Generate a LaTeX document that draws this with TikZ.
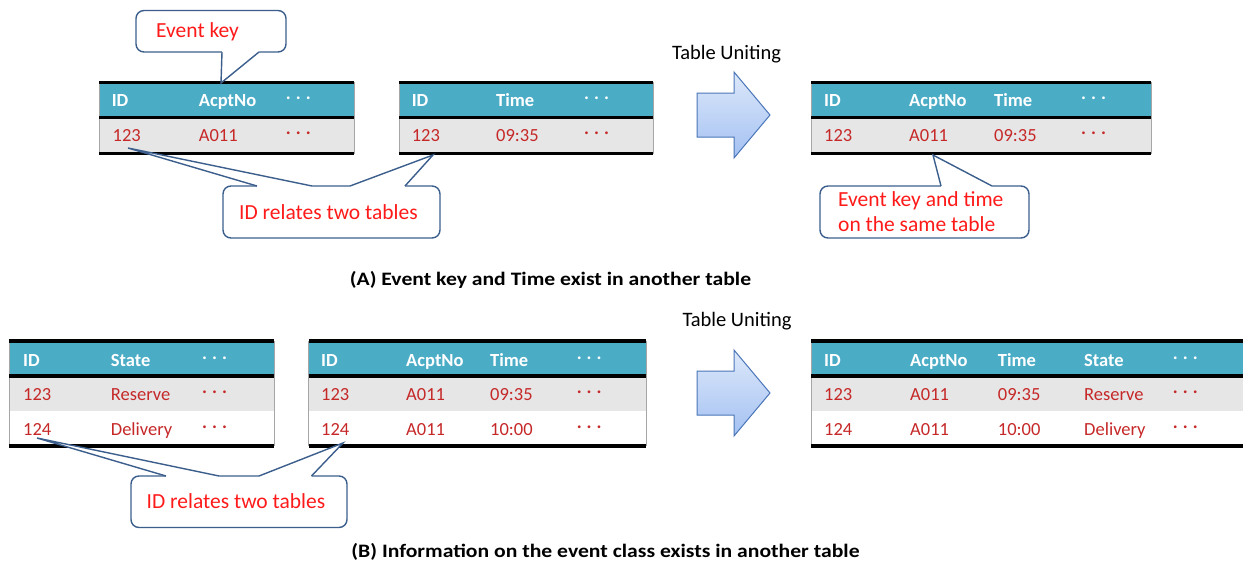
\documentclass[tikz,border=0pt]{standalone}
\usepackage{fontspec}
\setmainfont{Carlito}
\newfontfamily\capfont[FakeStretch=1.14]{Carlito}
\usetikzlibrary{calc}
\definecolor{hdrteal}{HTML}{4BACC6}
\definecolor{rowgray}{HTML}{E6E6E6}
\definecolor{cellred}{HTML}{C62828}
\definecolor{callred}{HTML}{FF1A1A}
\definecolor{callblue}{HTML}{3B5E8C}
\definecolor{arrowtop}{HTML}{DDE8FA}
\definecolor{arrowbot}{HTML}{A3C1F2}
\definecolor{arrowedge}{HTML}{4A76B8}
\definecolor{sidegray}{HTML}{A6A6A6}
\newcommand\tdots{\raisebox{7pt}{\textbf{.\kern5pt.\kern5pt.}}}
\newcommand\tabAbg[2]{%
  \fill[hdrteal] (#1,84) rectangle (#2,116);
  \fill[rowgray] (#1,119) rectangle (#2,152);
  \draw[sidegray, line width=0.8pt] (#1,82) -- (#1,154) (#2,82) -- (#2,154);
  \draw[line width=3.5pt] (#1,82.7) -- (#2,82.7) (#1,117.6) -- (#2,117.6) (#1,153.4) -- (#2,153.4);
}
\newcommand\tabBbg[2]{%
  \fill[hdrteal] (#1,342.7) rectangle (#2,374.5);
  \fill[rowgray] (#1,378) rectangle (#2,411);
  \draw[sidegray, line width=0.8pt] (#1,341) -- (#1,446) (#2,341) -- (#2,446);
  \draw[line width=3.5pt] (#1,341) -- (#2,341) (#1,376.2) -- (#2,376.2) (#1,446) -- (#2,446);
}
\tikzset{
  hdr/.style={anchor=base west, inner sep=0pt, text=white, font=\bfseries\fontsize{18.5}{20}\selectfont},
  cell/.style={anchor=base west, inner sep=0pt, text=cellred, font=\fontsize{18.5}{20}\selectfont},
  cbox/.style={draw=callblue, line width=1.4pt, rounded corners=8pt, fill=white, inner sep=0pt, outer sep=0pt},
  ctext/.style={anchor=base west, inner sep=0pt, text=callred, font=\fontsize{21.5}{25}\selectfont},
  cline/.style={draw=callblue, line width=1.4pt, line join=miter},
  bigarrow/.style={draw=arrowedge, line width=1pt, top color=arrowtop, bottom color=arrowbot},
  uniting/.style={anchor=base, inner sep=0pt, text=black, font=\fontsize{20.5}{22}\selectfont},
  caption/.style={anchor=base, inner sep=0pt, text=black, font=\capfont\bfseries\fontsize{19}{21}\selectfont}
}
\begin{document}
\begin{tikzpicture}[x=1pt,y=-1pt]
\useasboundingbox[fill=white] (0,0) rectangle (1243,568);

% ---------------- Part A tables ----------------
\tabAbg{99}{354}
\tabAbg{399}{653}
\tabAbg{811}{1151}

\foreach \n/\x/\t in {a1h1/111.6/ID, a1h2/198.7/AcptNo, a2h1/411.6/ID, a2h2/496/Time,
                      a3h1/824/ID, a3h2/909/AcptNo, a3h3/994/Time}
  \node[hdr] (\n) at (\x,106.7) {\t};
\foreach \n/\x in {a1hd/285.7, a2hd/584, a3hd/1081}
  \node[hdr] (\n) at (\x,106.7) {\tdots};
\foreach \n/\x/\t in {a1r1/112.5/123, a1r2/198.7/A011, a2r1/411.6/123, a2r2/496/09:35,
                      a3r1/824/123, a3r2/909/A011, a3r3/994/09:35}
  \node[cell] (\n) at (\x,141.7) {\t};
\foreach \n/\x in {a1rd/285.7, a2rd/584, a3rd/1081}
  \node[cell] (\n) at (\x,141.7) {\tdots};

% arrow A
\path[bigarrow] (697,93) -- (734,93) -- (734,72) -- (770,115) -- (734,158) -- (734,137) -- (697,137) -- cycle;
\node[uniting] (unitA) at (726.5,59) {Table Uniting};

% callout: Event key
\node[cbox, minimum width=150pt, minimum height=41.5pt] (ekbox) at (211,31.25) {};
\node[ctext] (ektext) at (156,37.5) {Event key};
\coordinate (ekb1) at (222,52);
\coordinate (ekb2) at (259,52);
\coordinate (ektip) at (221,83);
\fill[white] (ekb1) -- (ektip) -- (ekb2) -- ($(ekb2)+(0,-2)$) -- ($(ekb1)+(0,-2)$) -- cycle;
\draw[cline] (ekb1) -- (ektip) -- (ekb2);

% callout: ID relates two tables (A)
\node[cbox, minimum width=217pt, minimum height=52pt] (idAbox) at (331.5,212) {};
\node[ctext] (idAtext) at (239,219.3) {ID relates two tables};
\coordinate (idAt1) at (128,148);
\coordinate (idAb1) at (257,186);
\coordinate (idAb2) at (312,186);
\coordinate (idAt2) at (433,155);
\coordinate (idAb3) at (350,186);
\coordinate (idAb4) at (405,186);
\fill[white] (idAb1) -- (idAt1) -- (idAb2) -- ($(idAb2)+(0,2)$) -- ($(idAb1)+(0,2)$) -- cycle;
\fill[white] (idAb3) -- (idAt2) -- (idAb4) -- ($(idAb4)+(0,2)$) -- ($(idAb3)+(0,2)$) -- cycle;
\draw[cline] (idAb1) -- (idAt1) -- (idAb2);
\draw[cline] (idAb3) -- (idAt2) -- (idAb4);

% callout: Event key and time on the same table
\node[cbox, minimum width=209pt, minimum height=52pt] (etbox) at (924.5,212) {};
\node[ctext] (ettext1) at (838,206.7) {Event key and time};
\node[ctext] (ettext2) at (838,231.7) {on the same table};
\coordinate (etb1) at (941,186);
\coordinate (etb2) at (992,186);
\coordinate (ettip) at (933,155);
\fill[white] (etb1) -- (ettip) -- (etb2) -- ($(etb2)+(0,2)$) -- ($(etb1)+(0,2)$) -- cycle;
\draw[cline] (etb1) -- (ettip) -- (etb2);

\node[caption] (capA) at (550.5,285) {(A) Event key and Time exist in another table};

% ---------------- Part B tables ----------------
\tabBbg{9.3}{274.4}
\tabBbg{308.5}{646}
\tabBbg{811}{1248}

\foreach \n/\x/\t in {b1h1/23/ID, b1h2/110.7/State, b2h1/321/ID, b2h2/406/AcptNo, b2h3/490/Time,
                      b3h1/824/ID, b3h2/910/AcptNo, b3h3/997.7/Time, b3h4/1084/State}
  \node[hdr] (\n) at (\x,366) {\t};
\foreach \n/\x in {b1hd/202, b2hd/576.6, b3hd/1172.7}
  \node[hdr] (\n) at (\x,366) {\tdots};
\foreach \n/\x/\t in {b1a1/23/123, b1a2/110.7/Reserve, b2a1/321/123, b2a2/406/A011, b2a3/490/09:35,
                      b3a1/824/123, b3a2/910/A011, b3a3/997.7/09:35, b3a4/1084/Reserve}
  \node[cell] (\n) at (\x,400.7) {\t};
\foreach \n/\x/\t in {b1b1/23/124, b1b2/110.7/Delivery, b2b1/321/124, b2b2/406/A011, b2b3/490/10:00,
                      b3b1/824/124, b3b2/910/A011, b3b3/997.7/10:00, b3b4/1084/Delivery}
  \node[cell] (\n) at (\x,435.5) {\t};
\foreach \n/\x in {b1ad/202, b2ad/576.6, b3ad/1172.7}
  \node[cell] (\n) at (\x,400.7) {\tdots};
\foreach \n/\x in {b1bd/202, b2bd/576.6, b3bd/1172.7}
  \node[cell] (\n) at (\x,435.5) {\tdots};

% arrow B
\path[bigarrow] (697,371) -- (734,371) -- (734,350) -- (770,393) -- (734,436) -- (734,415) -- (697,415) -- cycle;
\node[uniting] (unitB) at (737,326) {Table Uniting};

% callout: ID relates two tables (B)
\node[cbox, minimum width=216pt, minimum height=51.5pt] (idBbox) at (239,501.75) {};
\node[ctext] (idBtext) at (146.5,508.3) {ID relates two tables};
\coordinate (idBt1) at (37,438);
\coordinate (idBb1) at (166,476);
\coordinate (idBb2) at (219,476);
\coordinate (idBt2) at (343,443);
\coordinate (idBb3) at (259,476);
\coordinate (idBb4) at (311.5,476);
\fill[white] (idBb1) -- (idBt1) -- (idBb2) -- ($(idBb2)+(0,2)$) -- ($(idBb1)+(0,2)$) -- cycle;
\fill[white] (idBb3) -- (idBt2) -- (idBb4) -- ($(idBb4)+(0,2)$) -- ($(idBb3)+(0,2)$) -- cycle;
\draw[cline] (idBb1) -- (idBt1) -- (idBb2);
\draw[cline] (idBb3) -- (idBt2) -- (idBb4);

\node[caption] (capB) at (605.5,557) {(B) Information on the event class exists in another table};
\end{tikzpicture}
\end{document}
